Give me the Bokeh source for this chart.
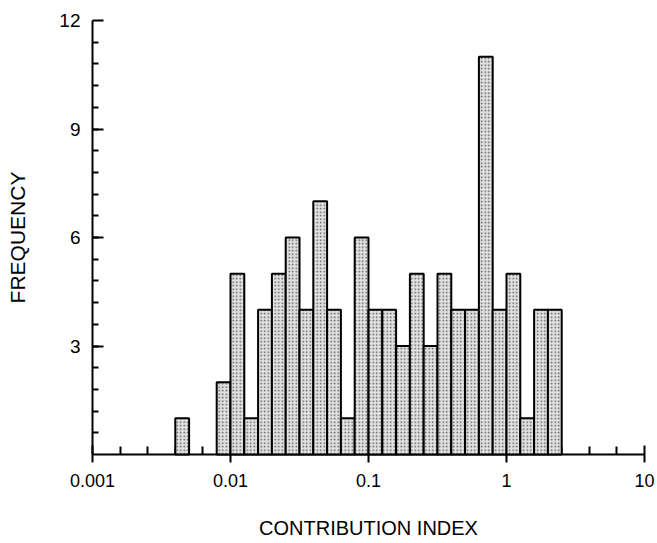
import numpy as np
from bokeh.plotting import figure
from bokeh.models import Range1d, FixedTicker, ColumnDataSource
from bokeh.embed import file_html
from bokeh.resources import INLINE

# log10 of each bin's lower edge (bins are 0.1 decade wide)
bin_lo_exp = [-2.4, -2.1, -2.0, -1.9, -1.8, -1.7, -1.6, -1.5, -1.4, -1.3, -1.2,
              -1.1, -1.0, -0.9, -0.8, -0.7, -0.6, -0.5, -0.4, -0.3, -0.2, -0.1,
              0.0, 0.1, 0.2, 0.3]
frequency = [1, 2, 5, 1, 4, 5, 6, 4, 7, 4, 1,
             6, 4, 4, 3, 5, 3, 5, 4, 4, 11, 4,
             5, 1, 4, 4]
bin_width_exp = 0.1

x_major = [0.001, 0.01, 0.1, 1, 10]
x_labels = {0.001: "0.001", 0.01: "0.01", 0.1: "0.1", 1: "1", 10: "10"}
y_major = [3, 6, 9, 12]

lo = np.array(bin_lo_exp)
src = ColumnDataSource(dict(left=10 ** lo, right=10 ** (lo + bin_width_exp),
                            top=frequency, bottom=[0] * len(frequency)))

FONT = "Liberation Sans"

p = figure(width=657, height=541, x_axis_type="log",
           x_range=Range1d(0.001, 10), y_range=Range1d(0, 12),
           output_backend="svg", toolbar_location=None,
           min_border_left=92, min_border_right=13,
           min_border_top=20, min_border_bottom=86)
p.outline_line_color = None
p.grid.visible = False
p.background_fill_color = "white"
p.border_fill_color = "white"

r = p.quad(left="left", right="right", top="top", bottom="bottom", source=src,
           fill_color="#e2e2e2", line_color="black", line_width=2,
           hatch_pattern="dot", hatch_color="#5a5a5a", hatch_scale=3.5,
           hatch_weight=1)
r.level = "overlay"

x_minor = [10 ** (d + k * 0.2) for d in range(-3, 1) for k in range(1, 5)]
y_minor = [round(0.6 * i, 1) for i in range(1, 20)]

xa = p.xaxis[0]
xa.ticker = FixedTicker(ticks=x_major, minor_ticks=x_minor)
xa.major_label_overrides = x_labels
xa.axis_line_width = 2
xa.major_tick_line_width = 2
xa.minor_tick_line_width = 2
xa.major_tick_in = 9
xa.major_tick_out = 8
xa.minor_tick_in = 8
xa.minor_tick_out = 0
xa.major_label_text_font = FONT
xa.major_label_text_font_size = "18px"
xa.major_label_text_color = "black"
xa.major_label_standoff = 11
xa.axis_label = "CONTRIBUTION INDEX"
xa.axis_label_text_font = FONT
xa.axis_label_text_font_size = "20px"
xa.axis_label_text_font_style = "normal"
xa.axis_label_text_color = "black"
xa.axis_label_standoff = 27

ya = p.yaxis[0]
ya.ticker = FixedTicker(ticks=y_major, minor_ticks=y_minor)
ya.axis_line_width = 2
ya.major_tick_line_width = 2
ya.minor_tick_line_width = 2
ya.major_tick_in = 11
ya.major_tick_out = 0
ya.minor_tick_in = 6
ya.minor_tick_out = 0
ya.major_label_text_font = FONT
ya.major_label_text_font_size = "19px"
ya.major_label_text_color = "black"
ya.major_label_standoff = 12
ya.axis_label = "FREQUENCY"
ya.axis_label_text_font = FONT
ya.axis_label_text_font_size = "21px"
ya.axis_label_text_font_style = "normal"
ya.axis_label_text_color = "black"
ya.axis_label_standoff = 27

open("out.html", "w").write(file_html(p, INLINE))
